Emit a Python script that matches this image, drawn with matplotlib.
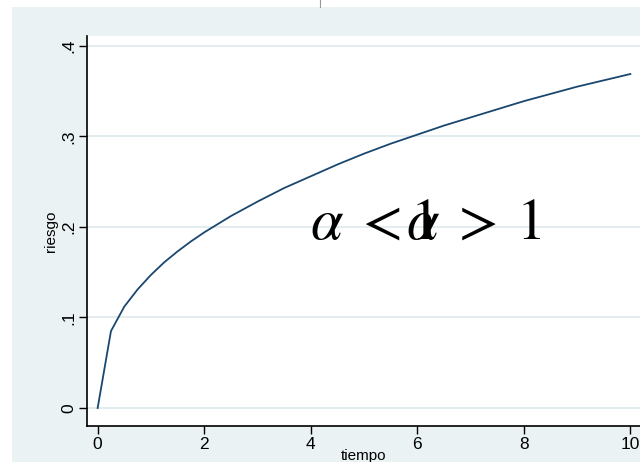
import matplotlib
matplotlib.use("Agg")
from matplotlib import pyplot as plt
from matplotlib.patches import Rectangle

# riesgo acumulado
tiempo = [0, 0.25, 0.5, 0.75, 1, 1.25, 1.5, 1.75, 2, 2.5, 3, 3.5, 4, 4.5, 5,
          5.5, 6, 6.5, 7, 7.5, 8, 8.5, 9, 9.5, 10]
riesgo = [0, 0.085, 0.112, 0.131, 0.147, 0.161, 0.173, 0.184, 0.194, 0.212, 0.228,
          0.243, 0.256, 0.269, 0.281, 0.292, 0.302, 0.312, 0.321, 0.330, 0.339,
          0.347, 0.355, 0.362, 0.369]

xticks = [0, 2, 4, 6, 8, 10]
yticks = [0, 0.1, 0.2, 0.3, 0.4]
ylabels = ["0", ".1", ".2", ".3", ".4"]

plt.rcParams["font.family"] = ["Liberation Sans", "DejaVu Sans"]
plt.rcParams["mathtext.fontset"] = "stix"

W, H = 640, 462
fig = plt.figure(figsize=(6.4, 4.62), dpi=100, facecolor="white")

# fondo gris-azulado del grafico (estilo Stata)
fig.patches.append(Rectangle((12 / W, 0), 1 - 12 / W, (H - 7) / H,
                             transform=fig.transFigure, facecolor="#EAF2F3",
                             edgecolor="none", zorder=-5))
fig.add_artist(plt.Line2D([320 / W, 320 / W], [(H - 7) / H, 1],
                          transform=fig.transFigure, color="#999999", lw=0.8))

left, right, top, bottom = 87, 641, 36, 426
ax = fig.add_axes([left / W, (H - bottom) / H, (right - left) / W, (bottom - top) / H])
ax.set_zorder(2)
ax.set_facecolor("white")

ax.plot(tiempo, riesgo, color="#1A476F", lw=1.3, zorder=3)

ax.set_xlim(-0.2, 10.2)
ax.set_ylim(-0.0199, 0.411)
ax.set_xticks(xticks)
ax.set_xticklabels([str(v) for v in xticks])
ax.set_yticks(yticks)
ax.set_yticklabels(ylabels, rotation=90, va="center")
ax.grid(axis="y", color="#E3ECEE", lw=1.4)
ax.set_axisbelow(True)

for s in ["top", "right"]:
    ax.spines[s].set_visible(False)
for s in ["left", "bottom"]:
    ax.spines[s].set_color("black")
    ax.spines[s].set_linewidth(1.2)

ax.tick_params(axis="both", direction="out", length=5.5, width=1, color="black",
               labelsize=12.5, pad=2.5)

ax.set_xlabel("tiempo", fontsize=11, labelpad=-2)
ax.set_ylabel("riesgo", fontsize=11, labelpad=2)

# los dos textos superpuestos
ax.text(3.98, 0.187, r"$\alpha\;<1$", fontsize=42, ha="left", va="baseline", zorder=4)
ax.text(5.78, 0.187, r"$\alpha\;>\:1$", fontsize=42, ha="left", va="baseline", zorder=4)

fig.savefig("out.png", dpi=100, facecolor=fig.get_facecolor())
